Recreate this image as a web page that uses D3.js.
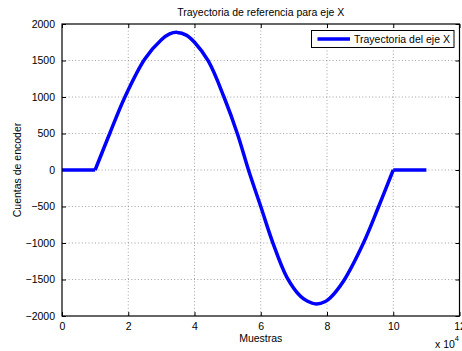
<!DOCTYPE html>
<html>
<head>
<meta charset="utf-8">
<script src="https://cdn.jsdelivr.net/npm/d3@7"></script>
<style>
  body { margin: 0; background: #fff; }
  text { font-family: "Liberation Sans", Arial, Helvetica, sans-serif; fill: #000; }
</style>
</head>
<body>
<svg id="chart" width="462" height="351"></svg>
<script>
// muestras (x 10^4) y cuentas de encoder
var muestras = [0, 1, 1.45, 1.9, 2.5, 3.0, 3.25, 3.48, 3.75, 4.0, 4.42, 4.89, 5.3, 5.63, 6.0, 6.36, 6.79, 7.2, 7.4, 7.67, 7.95, 8.1, 8.5, 9.1, 9.56, 10, 11];
var cuentas  = [0, 0, 510, 1000, 1520, 1785, 1865, 1885, 1848, 1750, 1490, 1000, 490, 0, -500, -990, -1470, -1730, -1795, -1835, -1802, -1750, -1520, -1000, -500, 0, 0];
var xTicks = [0, 2, 4, 6, 8, 10, 12];
var yTicks = [-2000, -1500, -1000, -500, 0, 500, 1000, 1500, 2000];

var margin = {left: 62, top: 24, right: 462 - 459.5, bottom: 351 - 316};
var W = 462, H = 351;

var svg = d3.select("#chart");
var x = d3.scaleLinear().domain([0, 12]).range([margin.left, W - margin.right]);
var y = d3.scaleLinear().domain([-2000, 2000]).range([H - margin.bottom, margin.top]);

var pts = muestras.map(function(m, i) { return [m, cuentas[i]]; });

// rejilla punteada
var grid = svg.append("g").attr("stroke", "#8a8a8a").attr("stroke-width", 0.8).attr("stroke-dasharray", "1,2.3");
grid.selectAll("line.gx").data(xTicks.slice(1, -1)).enter().append("line")
  .attr("x1", function(d) { return x(d); }).attr("x2", function(d) { return x(d); })
  .attr("y1", y(2000)).attr("y2", y(-2000));
grid.selectAll("line.gy").data(yTicks.slice(1, -1)).enter().append("line")
  .attr("y1", function(d) { return y(d); }).attr("y2", function(d) { return y(d); })
  .attr("x1", x(0)).attr("x2", x(12));

// ejes (ticks hacia dentro, estilo matlab)
var fs = "10.5px";
var gx = svg.append("g").attr("transform", "translate(0," + y(-2000) + ")")
  .call(d3.axisBottom(x).tickValues(xTicks).tickSize(-4).tickPadding(7).tickFormat(d3.format("d")));
var gxt = svg.append("g").attr("transform", "translate(0," + y(2000) + ")")
  .call(d3.axisTop(x).tickValues(xTicks).tickSize(-4).tickFormat(""));
var gy = svg.append("g").attr("transform", "translate(" + x(0) + ",0)")
  .call(d3.axisLeft(y).tickValues(yTicks).tickSize(-4).tickPadding(7).tickFormat(function(d) { return d < 0 ? "\u2212" + Math.abs(d) : d; }));
var gyr = svg.append("g").attr("transform", "translate(" + x(12) + ",0)")
  .call(d3.axisRight(y).tickValues(yTicks).tickSize(-4).tickFormat(""));

[gx, gxt, gy, gyr].forEach(function(g) {
  g.select(".domain").remove();
  g.selectAll(".tick line").attr("stroke", "#000").attr("stroke-width", 1);
  g.selectAll("text").style("font-size", fs).attr("fill", "#000");
});

// linea: tramos planos rectos, tramo central suavizado
var lineCurva = d3.line().x(function(d) { return x(d[0]); }).y(function(d) { return y(d[1]); }).curve(d3.curveCatmullRom.alpha(0.5));
var lineRecta = d3.line().x(function(d) { return x(d[0]); }).y(function(d) { return y(d[1]); });
var n = pts.length;
var trazo = svg.append("g").attr("fill", "none").attr("stroke", "#0000ff").attr("stroke-width", 3.5).attr("stroke-linejoin", "round");
trazo.append("path").attr("d", lineRecta(pts.slice(0, 2)));
trazo.append("path").attr("d", lineCurva(pts.slice(1, n - 1)));
trazo.append("path").attr("d", lineRecta(pts.slice(n - 2)));

// marco
svg.append("rect").attr("x", x(0)).attr("y", y(2000))
  .attr("width", x(12) - x(0)).attr("height", y(-2000) - y(2000))
  .attr("fill", "none").attr("stroke", "#000").attr("stroke-width", 1.2);

// titulo y etiquetas
svg.append("text").attr("x", (x(0) + x(12)) / 2).attr("y", 16).attr("text-anchor", "middle")
  .style("font-size", "10.5px").text("Trayectoria de referencia para eje X");
svg.append("text").attr("x", (x(0) + x(12)) / 2).attr("y", 342).attr("text-anchor", "middle")
  .style("font-size", "10.5px").text("Muestras");
svg.append("text").attr("transform", "translate(21," + y(0) + ") rotate(-90)").attr("text-anchor", "middle")
  .style("font-size", "10.5px").text("Cuentas de encoder");
var exp = svg.append("text").attr("x", 435).attr("y", 348).style("font-size", "10.5px");
exp.append("tspan").text("x 10");
exp.append("tspan").attr("dy", -7).style("font-size", "7.5px").text("4");

// leyenda
var leg = svg.append("g");
leg.append("rect").attr("x", 311.5).attr("y", 30.5).attr("width", 142.5).attr("height", 17)
  .attr("fill", "#fff").attr("stroke", "#000").attr("stroke-width", 1);
leg.append("line").attr("x1", 317.5).attr("x2", 350).attr("y1", 39).attr("y2", 39)
  .attr("stroke", "#0000ff").attr("stroke-width", 3.5);
leg.append("text").attr("x", 354).attr("y", 43).style("font-size", "10.5px").text("Trayectoria del eje X");
</script>
</body>
</html>
